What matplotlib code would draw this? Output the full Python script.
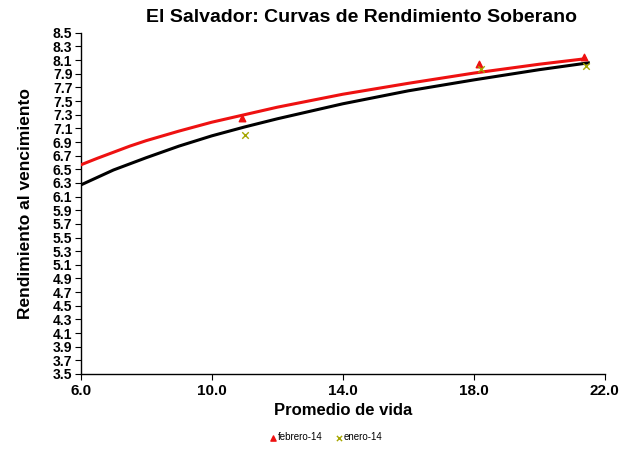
import matplotlib
matplotlib.use("Agg")
import matplotlib.pyplot as plt
import numpy as np

plt.rcParams['font.family'] = ['Liberation Sans', 'DejaVu Sans']

# Trend curves
curve_x_feb = [6, 6.5, 7, 7.5, 8, 9, 10, 11, 12, 14, 16, 18, 20, 21.4]
curve_y_feb = [6.565, 6.66, 6.75, 6.84, 6.92, 7.06, 7.19, 7.30, 7.41, 7.60, 7.76, 7.91, 8.04, 8.12]
curve_x_ene = [6, 6.5, 7, 7.5, 8, 9, 10, 11, 12, 14, 16, 18, 20, 21.5]
curve_y_ene = [6.27, 6.38, 6.49, 6.58, 6.67, 6.84, 6.99, 7.12, 7.24, 7.46, 7.65, 7.81, 7.96, 8.06]

# Observed points
feb_x = [10.93, 18.17, 21.38]
feb_y = [7.25, 8.05, 8.14]
ene_x = [11.02, 18.22, 21.44]
ene_y = [7.00, 7.97, 8.01]

x_ticks = [6.0, 10.0, 14.0, 18.0, 22.0]
y_ticks = [round(3.5 + 0.2 * i, 1) for i in range(26)]

fig = plt.figure(figsize=(6.26, 4.5), dpi=100)
ax = fig.add_axes([0.129, 0.169, 0.837, 0.758])

ax.plot(curve_x_feb, curve_y_feb, color='#EE1111', lw=2.2, zorder=3)
ax.plot(curve_x_ene, curve_y_ene, color='black', lw=2.2, zorder=2)
ax.scatter(feb_x, feb_y, marker='^', s=22, color='#EE1111', zorder=4, label='febrero-14')
ax.scatter(ene_x, ene_y, marker='x', s=22, color='#A6A600', linewidths=1.0, zorder=5, label='enero-14')

ax.set_xlim(6, 22)
ax.set_ylim(3.5, 8.5)
ax.set_xticks(x_ticks)
ax.set_xticklabels([f"{v:.1f}" for v in x_ticks], fontsize=11, fontweight='bold')
ax.set_yticks(y_ticks)
ax.set_yticklabels([f"{v:.1f}" for v in y_ticks], fontsize=10, fontweight='bold')

for s in ['top', 'right']:
    ax.spines[s].set_visible(False)
for s in ['left', 'bottom']:
    ax.spines[s].set_linewidth(1.0)
ax.tick_params(axis='y', direction='out', length=4, width=0.8, pad=2)
ax.tick_params(axis='x', direction='out', length=4, width=0.8, pad=3)

fig.text(0.577, 0.962, 'El Salvador: Curvas de Rendimiento Soberano',
         ha='center', va='center', fontsize=14, fontweight='bold')
ax.set_xlabel('Promedio de vida', fontsize=12, fontweight='bold', labelpad=4)
ax.set_ylabel('Rendimiento al vencimiento', fontsize=12.5, fontweight='bold', labelpad=14)

leg = fig.legend(loc='center', bbox_to_anchor=(0.52, 0.028), ncol=2, frameon=False,
                 fontsize=7, handletextpad=0.0, columnspacing=1.2, markerscale=0.8,
                 handlelength=1.0)

fig.savefig('out.png', dpi=100)
